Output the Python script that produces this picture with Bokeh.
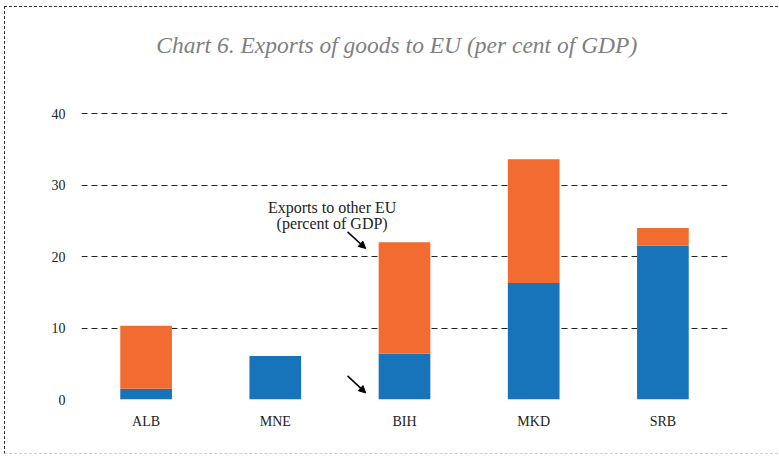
from bokeh.plotting import figure
from bokeh.models import (ColumnDataSource, Range1d, FixedTicker, Label, Arrow,
                          NormalHead)
from bokeh.embed import file_html
from bokeh.resources import INLINE

# ---- data ----
categories = ["ALB", "MNE", "BIH", "MKD", "SRB"]
exports_italy_germany = [1.5, 6.1, 6.4, 16.3, 21.5]
exports_other_eu = [8.8, 0.0, 15.6, 17.3, 2.5]
y_ticks = [0, 10, 20, 30, 40]

BLUE = "#1774BA"
ORANGE = "#F26B31"
FONT = "Liberation Serif"

x_pos = list(range(len(categories)))
source = ColumnDataSource(dict(x=x_pos, blue=exports_italy_germany,
                               orange=exports_other_eu))

W, H = 774, 448
p = figure(width=W, height=H, output_backend="svg", toolbar_location=None,
           x_range=Range1d(-0.5, len(categories) - 0.5),
           y_range=Range1d(0, 54.83),
           min_border_left=76, min_border_right=52,
           min_border_top=0, min_border_bottom=56)
p.outline_line_color = None
p.background_fill_color = "white"
p.border_fill_color = "white"
p.styles = {"margin-left": "4px", "margin-top": "6px",
            "border-top": "1px dashed #333", "border-left": "1px dashed #333",
            "border-bottom": "1px dashed #d0d0d0"}

p.vbar_stack(["blue", "orange"], x="x", width=0.4, source=source,
             color=[BLUE, ORANGE], line_color=None)

# axes
p.yaxis.ticker = FixedTicker(ticks=y_ticks)
p.xaxis.ticker = FixedTicker(ticks=x_pos)
p.xaxis.major_label_overrides = {i: c for i, c in zip(x_pos, categories)}
for ax in (p.xaxis[0], p.yaxis[0]):
    ax.axis_line_color = None
    ax.major_tick_line_color = None
    ax.minor_tick_line_color = None
    ax.major_tick_out = 0
    ax.major_tick_in = 0
    ax.minor_tick_out = 0
    ax.major_label_text_font = FONT
    ax.major_label_text_font_size = "14px"
    ax.major_label_text_color = "#222222"
p.yaxis.major_label_standoff = 16
p.xaxis.major_label_standoff = 14

p.xgrid.grid_line_color = None
p.ygrid.ticker = FixedTicker(ticks=y_ticks)
p.ygrid.grid_line_color = "#222222"
p.ygrid.grid_line_dash = "6 4"
p.ygrid.grid_line_width = 1

# title
p.add_layout(Label(x=1.94, y=49.6, text="Chart 6. Exports of goods to EU (per cent of GDP)",
                   text_font=FONT, text_font_style="italic", text_font_size="23.5px",
                   text_color="#7f7f7f", text_align="center", text_baseline="middle"))

# annotation
p.add_layout(Label(x=1.44, y=26.8, text="Exports to other EU",
                   text_font=FONT, text_font_size="16px", text_color="#222222",
                   text_align="center", text_baseline="middle"))
p.add_layout(Label(x=1.44, y=24.6, text="(percent of GDP)",
                   text_font=FONT, text_font_size="16px", text_color="#222222",
                   text_align="center", text_baseline="middle"))
for ys, ye in [(23.44, 21.12), (3.30, 0.92)]:
    p.add_layout(Arrow(x_start=1.559, y_start=ys, x_end=1.70, y_end=ye,
                       line_color="black", line_width=1.5,
                       end=NormalHead(size=7, fill_color="black", line_color="black")))

open("out.html", "w").write(file_html(p, INLINE))
